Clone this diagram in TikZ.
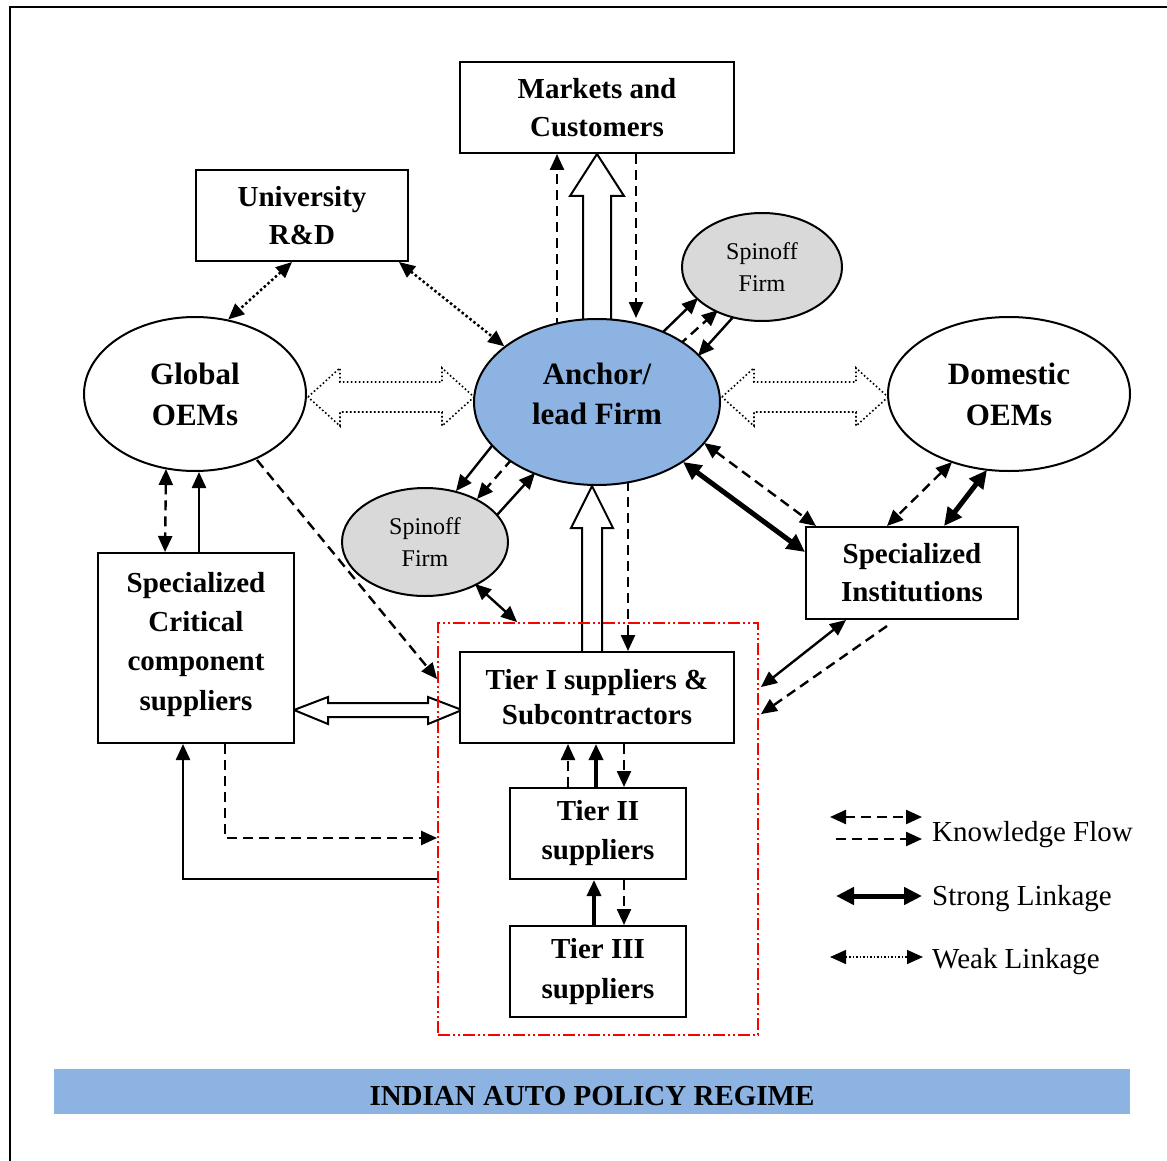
\documentclass[tikz,border=0pt]{standalone}
\usepackage{fontspec}
\setmainfont{Liberation Serif}
\usetikzlibrary{arrows.meta,shapes.geometric,calc}
\pgfdeclarelayer{background}
\pgfsetlayers{background,main}

\definecolor{anchorblue}{HTML}{8DB3E2}
\definecolor{spingray}{HTML}{D9D9D9}

\tikzset{
  boxnode/.style={draw, line width=2pt, fill=white, inner sep=0pt, align=center,
    font=\fontsize{29}{38}\selectfont\bfseries},
  ovalnode/.style={ellipse, draw, line width=2pt, fill=white, inner sep=0pt, align=center,
    font=\fontsize{31}{41}\selectfont\bfseries},
  spinnode/.style={ellipse, draw, line width=2pt, fill=spingray, inner sep=0pt, align=center,
    font=\fontsize{24}{32}\selectfont},
  knowflow/.style={line width=2.4pt, dash pattern=on 10pt off 6pt},
  weaklink/.style={line width=2.5pt, dash pattern=on 2.5pt off 2.5pt},
  plainlink/.style={line width=2.4pt},
  stronglink/.style={line width=5pt, >={Triangle[length=18pt,width=17pt]}},
  hollowarrow/.style={draw, fill=white, line width=2pt, line join=miter},
  hollowdot/.style={draw, fill=white, line width=1.6pt, dash pattern=on 1.6pt off 2.4pt},
  clusterbox/.style={draw=red, line width=1.8pt,
    dash pattern=on 12pt off 3pt on 2pt off 3pt on 2pt off 3pt},
  legendtext/.style={inner sep=0pt, font=\fontsize{29}{34}\selectfont},
  >={Triangle[length=16pt,width=14pt]},
}

\begin{document}
\begin{tikzpicture}[x=1pt,y=-1pt]
\useasboundingbox (0,0) rectangle (1167,1161);

% page frame
\draw[line width=2pt] (10,1161) -- (10,7) -- (1167,7);

% ---------- nodes ----------
\node[boxnode, minimum width=274pt, minimum height=91pt] (mkt) at (597,107.5) {Markets and\\Customers};
\node[boxnode, minimum width=212pt, minimum height=91pt] (uni) at (302,215.5) {University\\R\&D};
\node[ovalnode, minimum width=222pt, minimum height=154pt] (glob) at (195,394) {Global\\OEMs};
\node[ovalnode, fill=anchorblue, minimum width=246pt, minimum height=166pt,
      font=\fontsize{31}{40}\selectfont\bfseries, text depth=16pt] (anchor) at (597,402) {Anchor/\\lead Firm};
\node[ovalnode, minimum width=242pt, minimum height=154pt] (dom) at (1009,394) {Domestic\\OEMs};
\node[spinnode, minimum width=160pt, minimum height=108pt] (spinA) at (762,267) {Spinoff\\Firm};
\node[spinnode, minimum width=166pt, minimum height=108pt] (spinB) at (425,542) {Spinoff\\Firm};
\node[boxnode, minimum width=212pt, minimum height=92pt] (inst) at (912,573) {Specialized\\Institutions};
\node[boxnode, minimum width=196pt, minimum height=190pt,
      font=\fontsize{29}{39.3}\selectfont\bfseries, text depth=14pt] (crit) at (196,648)
      {Specialized\\Critical\\component\\suppliers};
\node[clusterbox, minimum width=320pt, minimum height=412pt, inner sep=0pt] (cluster) at (598,829) {};
\node[boxnode, minimum width=274pt, minimum height=91pt, font=\fontsize{29}{35}\selectfont\bfseries]
      (tier1) at (597,697.5) {Tier I suppliers \&\\Subcontractors};
\node[boxnode, minimum width=176pt, minimum height=91pt, font=\fontsize{29}{39}\selectfont\bfseries]
      (tier2) at (598,833.5) {Tier II\\suppliers};
\node[boxnode, minimum width=176pt, minimum height=91pt, font=\fontsize{29}{40}\selectfont\bfseries]
      (tier3) at (598,971.5) {Tier III\\suppliers};

% policy banner
\node[fill=anchorblue, minimum width=1076pt, minimum height=45pt, inner sep=0pt,
      text height=28pt, text depth=0pt, font=\fontsize{29}{34}\selectfont\bfseries]
      (policy) at (592,1091.5) {INDIAN AUTO POLICY REGIME};

% legend
\node[legendtext, anchor=base west] (lgk) at (932,841) {Knowledge Flow};
\node[legendtext, anchor=base west] (lgs) at (932,905) {Strong Linkage};
\node[legendtext, anchor=base west] (lgw) at (932,968) {Weak Linkage};
\coordinate (k1a) at (830,817);  \coordinate (k1b) at (922,817);
\coordinate (k2a) at (836,839);  \coordinate (k2b) at (922,839);
\coordinate (s1a) at (836,896);  \coordinate (s1b) at (922,896);
\coordinate (w1a) at (830,957);  \coordinate (w1b) at (923,957);
\draw[knowflow,<->] (k1a) -- (k1b);
\draw[knowflow,->] (k2a) -- (k2b);
\draw[stronglink,<->] (s1a) -- (s1b);
\draw[weaklink,line width=1.5pt,dash pattern=on 1.5pt off 2pt,<->] (w1a) -- (w1b);

% ---------- connectors ----------
\begin{pgfonlayer}{background}
  % anchor firm and markets
  \draw[knowflow,->] ($(anchor.north)+(-40,10)$) -- ($(mkt.south)+(-40,0)$);
  \draw[knowflow,->] ($(mkt.south)+(39,0)$) -- ($(anchor.north)+(39,0)$);
  \draw[hollowarrow] (mkt.south) -- ++(27,42) -- ++(-13,0) -- ++(0,130) -- ++(-28,0)
        -- ++(0,-130) -- ++(-13,0) -- cycle;

  % university links
  \draw[weaklink,<->] ($(uni.south)+(-10,0)$) -- (glob.66);
  \draw[weaklink,<->] ($(uni.south east)+(-10,0)$) -- (anchor.149);

  % OEMs and anchor firm
  \coordinate (gL) at ($(glob.east)+(1,3)$);
  \draw[hollowdot] (gL) -- ++(32,-29) -- ++(0,14) -- ++(102,0) -- ++(0,-14) -- ++(32,29)
        -- ++(-32,29) -- ++(0,-14) -- ++(-102,0) -- ++(0,14) -- cycle;
  \coordinate (aR) at ($(anchor.east)+(1,-5)$);
  \draw[hollowdot] (aR) -- ++(32,-29) -- ++(0,14) -- ++(102,0) -- ++(0,-14) -- ++(32,29)
        -- ++(-32,29) -- ++(0,-14) -- ++(-102,0) -- ++(0,14) -- cycle;

  % upper spinoff
  \draw[plainlink,->] ($(anchor.center)+(64,-68)$) -- ($(spinA.center)+(-64,31)$);
  \draw[knowflow,->] ($(anchor.center)+(82,-57)$) -- ($(spinA.center)+(-44,43)$);
  \draw[plainlink,->] ($(spinA.center)+(-27,48)$) -- ($(anchor.center)+(101,-46)$);

  % lower spinoff
  \draw[plainlink,->] ($(anchor.center)+(-102,40)$) -- ($(spinB.center)+(31,-51)$);
  \draw[knowflow,->] ($(anchor.center)+(-85,57)$) -- ($(spinB.center)+(52,-43)$);
  \draw[plainlink,->] ($(spinB.center)+(72,-27)$) -- ($(anchor.center)+(-62,71)$);
  \draw[plainlink,<->] ($(spinB.center)+(50,42)$) -- ($(cluster.north west)+(80,0)$);

  % tier I and anchor firm
  \draw[hollowarrow] ($(anchor.south)+(-5,0)$) -- ++(21,42) -- ++(-11,0) -- ++(0,128)
        -- ++(-20,0) -- ++(0,-128) -- ++(-11,0) -- cycle;
  \draw[knowflow,->] ($(anchor.south)+(31,-5)$) -- ($(tier1.north)+(31,0)$);

  % specialized institutions
  \draw[stronglink,<->] ($(anchor.center)+(86,60)$) -- ($(inst.west)+(0,-21)$);
  \draw[knowflow,<->] ($(anchor.center)+(107,41)$) -- ($(inst.north west)+(11,0)$);
  \draw[knowflow,<->] ($(dom.center)+(-57,68)$) -- ($(inst.north west)+(82,0)$);
  \draw[stronglink,<->] ($(dom.center)+(-22,76)$) -- ($(inst.north west)+(139,0)$);
  \draw[plainlink,<->] ($(inst.south west)+(41,0)$) -- ($(cluster.north east)+(2,65)$);
  \draw[knowflow,->] ($(inst.south west)+(82,6)$) -- ($(cluster.north east)+(2,92)$);

  % global OEMs and critical component suppliers
  \draw[knowflow,<->] ($(glob.center)+(-29,75)$) -- ($(crit.north west)+(68,0)$);
  \coordinate (cg) at ($(crit.north west)+(102,0)$);
  \draw[plainlink,->] (cg) -- (cg |- glob.south);
  \draw[knowflow,->] ($(glob.center)+(62,66)$) -- ($(cluster.north west)+(0,57)$);
  \coordinate (cT) at ($(crit.east)+(-1,62)$);
  \draw[hollowarrow] (cT) -- ++(34,-13) -- ++(0,6) -- ++(100,0) -- ++(0,-6) -- ++(34,13)
        -- ++(-34,14) -- ++(0,-7) -- ++(-100,0) -- ++(0,7) -- cycle;
  \draw[knowflow,->] ($(crit.south west)+(128,0)$) |- ($(cluster.west)+(0,9)$);
  \draw[plainlink,->] ($(cluster.west)+(0,50)$) -| ($(crit.south west)+(86,0)$);

  % supplier tiers
  \draw[knowflow,->] ($(tier2.north)+(-30,0)$) -- ($(tier1.south)+(-29,0)$);
  \draw[line width=3.5pt,->] ($(tier2.north)+(-2,0)$) -- ($(tier1.south)+(-1,0)$);
  \draw[knowflow,->] ($(tier1.south)+(27,0)$) -- ($(tier2.north)+(26,0)$);
  \draw[line width=3.5pt,->] ($(tier3.north)+(-4,0)$) -- ($(tier2.south)+(-4,0)$);
  \draw[knowflow,->] ($(tier2.south)+(26,0)$) -- ($(tier3.north)+(26,0)$);
\end{pgfonlayer}
\end{tikzpicture}
\end{document}
